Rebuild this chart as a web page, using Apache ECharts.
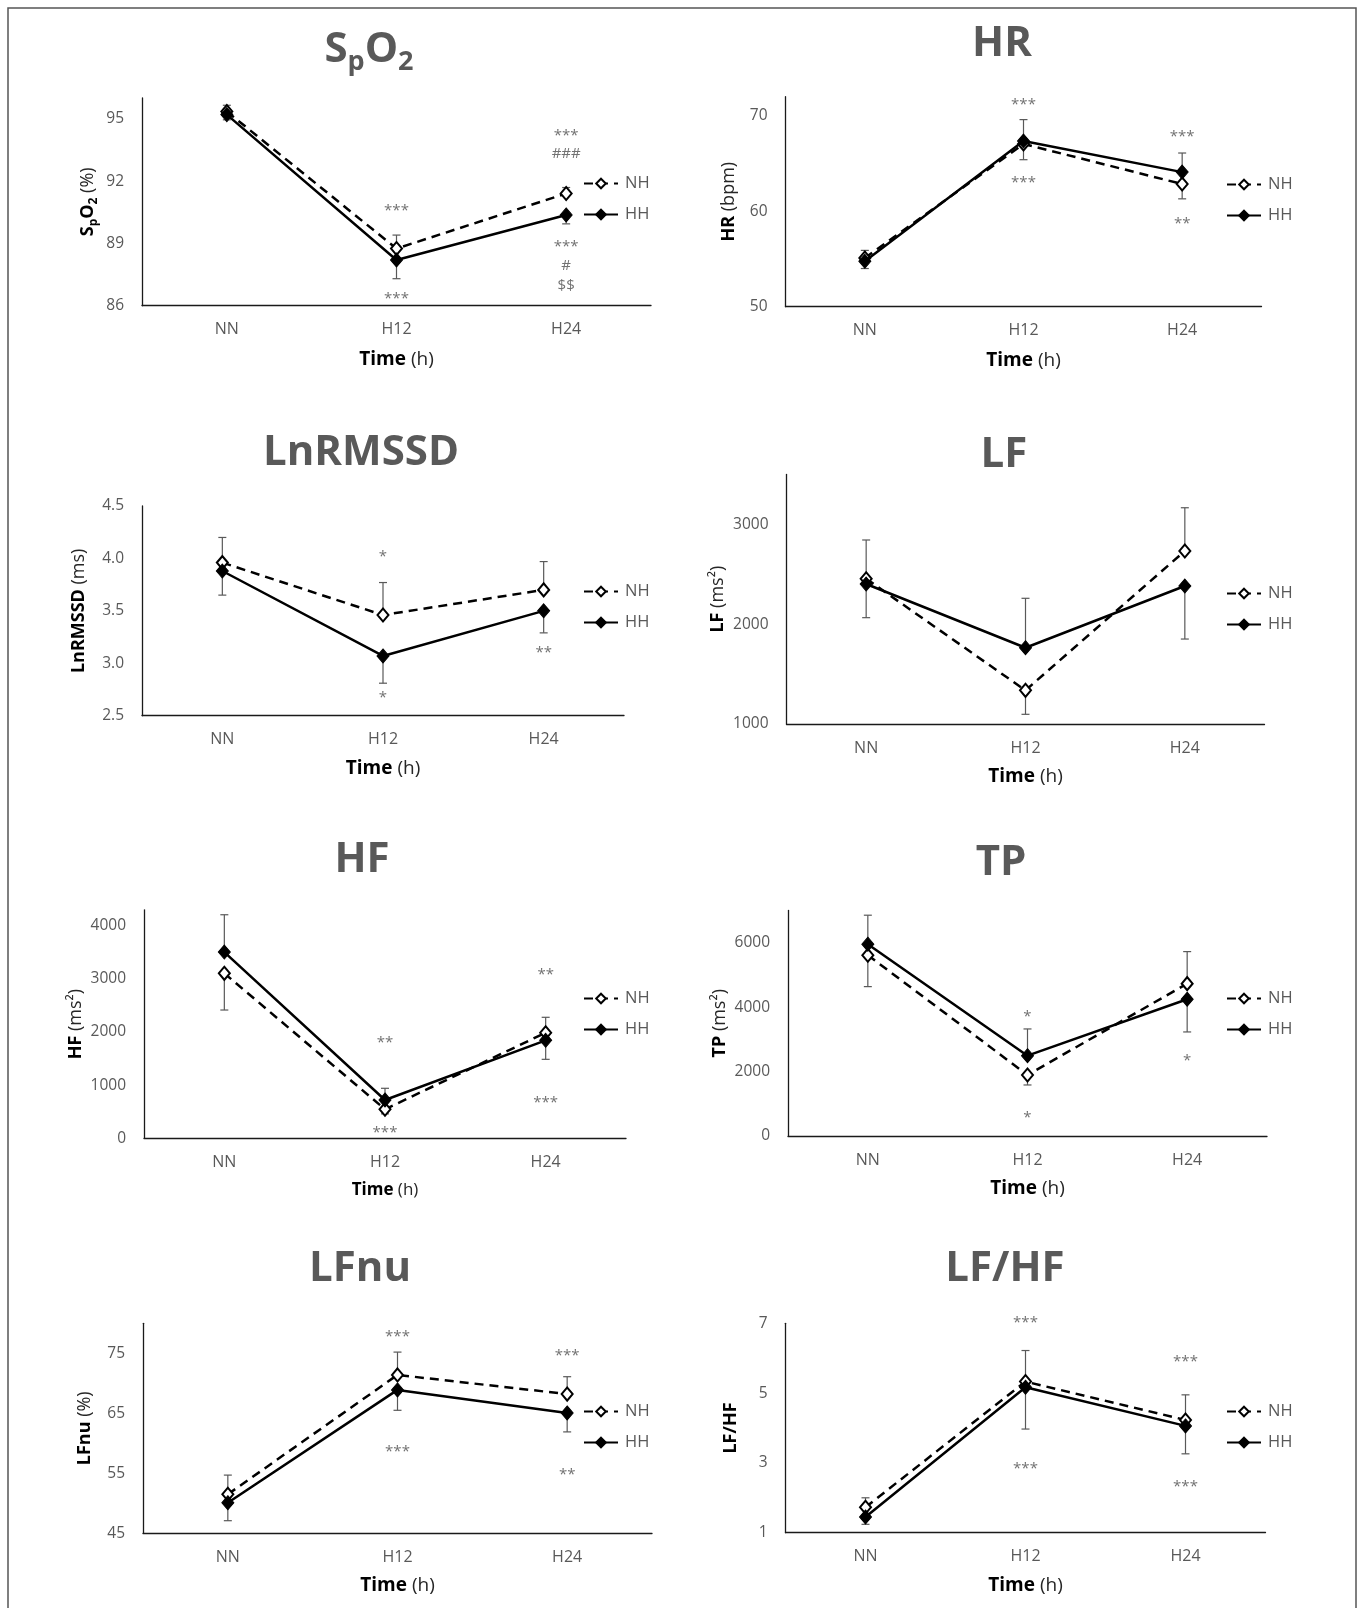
<!DOCTYPE html>
<html>
<head>
<meta charset="utf-8">
<title>SpO2, HR and HRV over time</title>
<script src="https://cdn.jsdelivr.net/npm/echarts@6/dist/echarts.min.js"></script>
<style>
  html, body { margin: 0; padding: 0; background: #fff; }
  #main { width: 1363px; height: 1608px; }
</style>
</head>
<body>
<div id="main"></div>
<script>
var categories = ['NN', 'H12', 'H24'];

// SpO2 (%)
var spo2NH = [95.35, 88.75, 91.4];
var spo2HH = [95.2, 88.2, 90.37];
var spo2NHEnd = [95.65, 89.4, 91.69];   // error bar ends
var spo2HHEnd = [94.95, 87.3, 89.94];
var spo2Marks = [[1, 90.77, '***'], [1, 86.55, '***'], [2, 94.39, '***'], [2, 93.31, '###'],
                 [2, 89.01, '***'], [2, 87.91, '#'], [2, 86.95, '$$']];

// HR (bpm)
var hrNH = [55.1, 67.05, 62.85];
var hrHH = [54.75, 67.35, 64.1];
var hrNHEnd = [55.9, 65.4, 61.3];
var hrHHEnd = [54.0, 69.6, 66.1];
var hrMarks = [[1, 71.57, '***'], [1, 63.45, '***'], [2, 68.26, '***'], [2, 59.08, '**']];

// LnRMSSD (ms)
var rmssdNH = [3.96, 3.46, 3.70];
var rmssdHH = [3.88, 3.07, 3.50];
var rmssdNHEnd = [4.20, 3.77, 3.97];
var rmssdHHEnd = [3.65, 2.81, 3.29];
var rmssdMarks = [[1, 4.05, '*'], [1, 2.71, '*'], [2, 3.14, '**']];

// LF (ms2)
var lfNH = [2455, 1337, 2733];
var lfHH = [2402, 1764, 2382];
var lfNHEnd = [2843, 1097, 3166];
var lfHHEnd = [2065, 2259, 1851];
var lfMarks = [];

// HF (ms2)
var hfNH = [3104, 546, 1987];
var hfHH = [3505, 721, 1844];
var hfNHEnd = [2414, 460, 2277];
var hfHHEnd = [4207, 941, 1486];
var hfMarks = [[1, 1881, '**'], [1, 188, '***'], [2, 3148, '**'], [2, 753, '***']];

// TP (ms2)
var tpNH = [5612, 1894, 4730];
var tpHH = [5953, 2494, 4245];
var tpNHEnd = [4637, 1584, 5724];
var tpHHEnd = [6854, 3323, 3230];
var tpMarks = [[1, 3829, '*'], [1, 705, '*'], [2, 2453, '*']];

// LFnu (%)
var lfnuNH = [51.5, 71.4, 68.2];
var lfnuHH = [50.1, 68.9, 65.05];
var lfnuNHEnd = [54.7, 75.2, 71.1];
var lfnuHHEnd = [47.1, 65.5, 61.9];
var lfnuMarks = [[1, 78.4, '***'], [1, 59.3, '***'], [2, 75.2, '***'], [2, 55.5, '**']];

// LF/HF
var ratioNH = [1.73, 5.33, 4.23];
var ratioHH = [1.45, 5.17, 4.06];
var ratioNHEnd = [2.0, 6.22, 4.95];
var ratioHHEnd = [1.24, 3.97, 3.26];
var ratioMarks = [[1, 7.12, '***'], [1, 2.94, '***'], [2, 6.0, '***'], [2, 2.42, '***']];

var FONT = 'Open Sans';
var GRAY = '#595959';
var AXIS = '#1a1a1a';

var panels = [
  { title: 'SpO2', tx: 369, ty: 50, yName: '{b|S}{bs|p}{b|O}{bs|2} {r|(%)}',
    nh: spo2NH, hh: spo2HH, nhEnd: spo2NHEnd, hhEnd: spo2HHEnd, marks: spo2Marks,
    min: 86, max: 96, step: 3, showMax: false,
    grid: [142, 98, 509, 207.7], yGap: 43, xGap: 44, xSize: 19, legend: [583, 175] },
  { title: 'HR', tx: 1002, ty: 44, yName: '{b|HR} {r|(bpm)}',
    nh: hrNH, hh: hrHH, nhEnd: hrNHEnd, hhEnd: hrHHEnd, marks: hrMarks,
    min: 50, max: 72, step: 10, showMax: false,
    grid: [785.5, 96.7, 476, 210], yGap: 46, xGap: 44, xSize: 19, legend: [1226, 176] },
  { title: 'LnRMSSD', tx: 361, ty: 453, yName: '{b|LnRMSSD} {r|(ms)}',
    nh: rmssdNH, hh: rmssdHH, nhEnd: rmssdNHEnd, hhEnd: rmssdHHEnd, marks: rmssdMarks,
    min: 2.5, max: 4.5, step: 0.5, showMax: true, decimals: 1,
    grid: [142, 506, 482, 209.7], yGap: 52, xGap: 43, xSize: 19, legend: [583, 583] },
  { title: 'LF', tx: 1004, ty: 455, yName: '{b|LF} {r|(ms²)}',
    nh: lfNH, hh: lfHH, nhEnd: lfNHEnd, hhEnd: lfHHEnd, marks: lfMarks,
    min: 1000, max: 3500, step: 1000, showMax: false,
    grid: [786.5, 474.4, 478, 249.6], yGap: 52, xGap: 43, xSize: 19, legend: [1226, 585] },
  { title: 'HF', tx: 362, ty: 860, yName: '{b|HF} {r|(ms²)}',
    nh: hfNH, hh: hfHH, nhEnd: hfNHEnd, hhEnd: hfHHEnd, marks: hfMarks,
    min: 0, max: 4300, step: 1000, showMax: false,
    grid: [144, 909.8, 482, 228.5], yGap: 57, xGap: 43, xSize: 17, legend: [583, 990] },
  { title: 'TP', tx: 1001, ty: 863, yName: '{b|TP} {r|(ms²)}',
    nh: tpNH, hh: tpHH, nhEnd: tpNHEnd, hhEnd: tpHHEnd, marks: tpMarks,
    min: 0, max: 7000, step: 2000, showMax: false,
    grid: [788, 910.5, 479, 225.5], yGap: 56, xGap: 43, xSize: 19, legend: [1226, 990] },
  { title: 'LFnu', tx: 360, ty: 1269, yName: '{b|LFnu} {r|(%)}',
    nh: lfnuNH, hh: lfnuHH, nhEnd: lfnuNHEnd, hhEnd: lfnuHHEnd, marks: lfnuMarks,
    min: 45, max: 80, step: 10, showMax: false,
    grid: [143, 1323.3, 509, 210], yGap: 47, xGap: 43, xSize: 19, legend: [583, 1403] },
  { title: 'LF/HF', tx: 1005, ty: 1269, yName: '{b|LF/HF}',
    nh: ratioNH, hh: ratioHH, nhEnd: ratioNHEnd, hhEnd: ratioHHEnd, marks: ratioMarks,
    min: 1, max: 7, step: 2, showMax: true,
    grid: [785.5, 1323.3, 480, 209.4], yGap: 44, xGap: 43, xSize: 19, legend: [1226, 1403] }
];

function errData(vals, ends) {
  return vals.map(function (v, i) { return [i, v, ends[i]]; });
}

function markData(marks) {
  return marks.map(function (m) {
    return { value: [m[0], m[1]], name: m[2],
             label: { offset: [0, m[2].indexOf('*') >= 0 ? 4 : 0] } };
  });
}

function renderErr(params, api) {
  var a = api.coord([api.value(0), api.value(1)]);
  var b = api.coord([api.value(0), api.value(2)]);
  var st = { stroke: GRAY, lineWidth: 1.2 };
  return {
    type: 'group',
    children: [
      { type: 'line', shape: { x1: a[0], y1: a[1], x2: b[0], y2: b[1] }, style: st },
      { type: 'line', shape: { x1: b[0] - 4, y1: b[1], x2: b[0] + 4, y2: b[1] }, style: st }
    ]
  };
}

var grids = [], xAxes = [], yAxes = [], series = [], legends = [];
var graphics = [
  { type: 'rect', shape: { x: 8, y: 8, width: 1348, height: 1640 },
    style: { fill: 'none', stroke: '#555', lineWidth: 1.5 }, silent: true }
];

var nameRich = {
  b: { fontSize: 18, fontWeight: 'bold', color: '#000', fontFamily: FONT, lineHeight: 20, verticalAlign: 'top' },
  bs: { fontSize: 12, fontWeight: 'bold', color: '#000', fontFamily: FONT, lineHeight: 12, padding: [9, 0, 0, 0], verticalAlign: 'top' },
  r: { fontSize: 18, color: '#262626', fontFamily: FONT, lineHeight: 20, verticalAlign: 'top' }
};

panels.forEach(function (p, k) {
  grids.push({ left: p.grid[0], top: p.grid[1], width: p.grid[2], height: p.grid[3],
               containLabel: false, outerBoundsMode: 'none' });

  xAxes.push({
    type: 'category', gridIndex: k, data: categories, boundaryGap: true,
    axisLine: { lineStyle: { color: AXIS, width: 1.3 } },
    axisTick: { show: false },
    axisLabel: { color: GRAY, fontSize: 16, fontFamily: FONT, margin: 16 },
    name: '{b|Time} {r|(h)}', nameLocation: 'middle', nameGap: p.xGap,
    nameTextStyle: {
      fontSize: p.xSize, fontFamily: FONT,
      rich: {
        b: { fontSize: p.xSize, fontWeight: 'bold', color: '#000', fontFamily: FONT },
        r: { fontSize: p.xSize, color: '#262626', fontFamily: FONT }
      }
    }
  });

  yAxes.push({
    type: 'value', gridIndex: k, min: p.min, max: p.max, interval: p.step,
    axisLine: { show: true, lineStyle: { color: AXIS, width: 1.3 } },
    axisTick: { show: false },
    splitLine: { show: false },
    axisLabel: {
      color: GRAY, fontSize: 15.5, fontFamily: FONT, margin: 18,
      showMaxLabel: p.showMax, showMinLabel: true,
      formatter: function (v) { return p.decimals ? v.toFixed(p.decimals) : String(v); }
    },
    name: p.yName, nameLocation: 'middle', nameGap: p.yGap, nameRotate: 90,
    nameTextStyle: { fontSize: 18, fontFamily: FONT, lineHeight: 20, rich: nameRich }
  });

  series.push({
    type: 'custom', xAxisIndex: k, yAxisIndex: k, silent: true, z: 1,
    data: errData(p.nh, p.nhEnd), encode: { x: 0, y: [1, 2] }, renderItem: renderErr
  });
  series.push({
    type: 'custom', xAxisIndex: k, yAxisIndex: k, silent: true, z: 1,
    data: errData(p.hh, p.hhEnd), encode: { x: 0, y: [1, 2] }, renderItem: renderErr
  });
  series.push({
    type: 'line', name: 'NH', xAxisIndex: k, yAxisIndex: k, data: p.nh, z: 3,
    symbol: 'diamond', symbolSize: [11, 13], showAllSymbol: true,
    lineStyle: { color: '#000', width: 2.5, type: [9, 6] },
    itemStyle: { color: '#fff', borderColor: '#000', borderWidth: 2 },
    emphasis: { disabled: true }
  });
  series.push({
    type: 'line', name: 'HH', xAxisIndex: k, yAxisIndex: k, data: p.hh, z: 4,
    symbol: 'diamond', symbolSize: [12, 14], showAllSymbol: true,
    lineStyle: { color: '#000', width: 2.5, type: 'solid' },
    itemStyle: { color: '#000', borderColor: '#000', borderWidth: 1 },
    emphasis: { disabled: true }
  });
  series.push({
    type: 'scatter', xAxisIndex: k, yAxisIndex: k, silent: true, clip: false, z: 2,
    data: markData(p.marks), symbolSize: 1,
    itemStyle: { color: 'rgba(0,0,0,0)' },
    label: { show: true, position: 'inside', color: '#4d4d4d',
             fontSize: 15, fontFamily: FONT,
             formatter: function (q) { return q.name; } }
  });

  legends.push({
    data: ['NH', 'HH'], orient: 'vertical', left: p.legend[0], top: p.legend[1],
    itemWidth: 34, itemHeight: 12, itemGap: 14, padding: 0,
    textStyle: { color: GRAY, fontSize: 16.5, fontFamily: FONT, lineHeight: 16, padding: [0, 0, 0, 2] }
  });

  if (p.title === 'SpO2') {
    graphics.push({
      type: 'text', x: p.tx, y: p.ty, silent: true,
      style: {
        text: '{m|S}{s|p}{m|O}{s|2}', align: 'center', verticalAlign: 'middle',
        rich: {
          m: { fontSize: 42, fontWeight: 'bold', fontFamily: FONT, fill: GRAY, lineHeight: 42, verticalAlign: 'top' },
          s: { fontSize: 27, fontWeight: 'bold', fontFamily: FONT, fill: GRAY, lineHeight: 27, padding: [20, 0, 0, 0], verticalAlign: 'top' }
        }
      }
    });
  } else {
    graphics.push({
      type: 'text', x: p.tx, y: p.ty, silent: true,
      style: { text: p.title, font: 'bold 42px "Open Sans"', fill: GRAY,
               align: 'center', verticalAlign: 'middle' }
    });
  }
});

var chart = echarts.init(document.getElementById('main'));
chart.setOption({
  animation: false,
  backgroundColor: '#fff',
  textStyle: { fontFamily: FONT },
  grid: grids,
  xAxis: xAxes,
  yAxis: yAxes,
  legend: legends,
  series: series,
  graphic: graphics
});
</script>
</body>
</html>
